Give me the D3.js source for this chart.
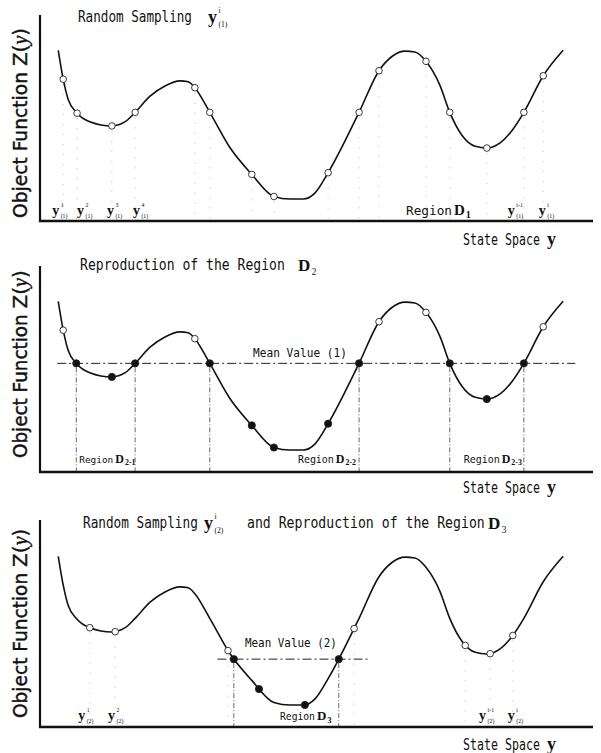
<!DOCTYPE html>
<html><head><meta charset="utf-8">
<script src="https://cdn.jsdelivr.net/npm/d3@7"></script>
<style>
body{margin:0;background:#fff}
svg{display:block}
.mono{font-family:"DejaVu Sans Mono","Liberation Mono",monospace;fill:#111}
.sans{font-family:"DejaVu Sans","Liberation Sans",sans-serif;fill:#111}
.ser{font-family:"Liberation Serif","DejaVu Serif",serif;font-weight:bold;fill:#111}
</style></head><body>
<svg id="c" width="601" height="753"></svg>
<script>
// ---------------- data (state space u: 0..100, object function z: 0..10) ----------------
const curveU = [3.3, 4.2, 5.1, 6.7, 9.0, 13.0, 15.4, 17.2, 19.9, 22.6, 25.3, 26.8, 28.0, 30.7, 34.4, 38.3, 42.3, 45.2, 47.6, 49.7, 52.1, 55.2, 57.7, 61.3, 63.7, 66.0, 67.8, 69.8, 72.3, 74.1, 76.3, 78.7, 80.8, 83.2, 85.4, 87.5, 91.0, 94.6];
const curveZ = [10.1, 8.4, 7.2, 6.4, 5.9, 5.65, 5.9, 6.45, 7.4, 8.0, 8.3, 8.25, 7.9, 6.45, 4.35, 2.8, 1.5, 1.35, 1.35, 1.7, 2.9, 4.8, 6.45, 8.9, 9.75, 10.05, 10.0, 9.45, 8.05, 6.45, 5.1, 4.45, 4.35, 4.65, 5.4, 6.45, 8.6, 10.1];

// panel 1: random sampling y(1)
const samples1 = [4.2, 6.7, 13.0, 17.2, 28.0, 30.7, 38.3, 42.3, 52.1, 57.7, 61.3, 69.8, 74.1, 80.8, 87.5, 91.0];
const ticks1U = [2.2, 6.7, 12.1, 16.8, 84.6, 90.2];
const ticks1Sup = ["1", "2", "3", "4", "i-1", "i"];
const ticks1Sub = "(1)";

// panel 2: reproduction of region D2
const open2 = [4.2, 28.0, 61.3, 69.8, 91.0];
const filled2 = [13.0, 38.3, 42.3, 52.1, 80.8];
const mean1 = 6.45;
const mean1Span = [3.1, 96.8];
const regions2 = ["2-1", "2-2", "2-3"];

// panel 3: random sampling y(2), region D3
const open3 = [9.0, 13.6, 34.0, 56.8, 76.9, 81.4, 85.5];
const filled3 = [39.6, 47.9];
const mean2 = 4.05;
const mean2Span = [32.1, 59.7];
const ticks3U = [6.9, 12.3, 79.4, 84.6];
const ticks3Sup = ["1", "2", "i-1", "i"];
const ticks3Sub = "(2)";

// ---------------- layout ----------------
const svg = d3.select("#c");
const x = d3.scaleLinear().domain([0, 100]).range([40, 593]);
const panels = [{axisY: 221, topY: 15}, {axisY: 472, topY: 266}, {axisY: 727, topY: 520}];
panels.forEach(p => p.z = d3.scaleLinear().domain([0, 10]).range([p.axisY + 1, p.axisY - 169]));
const curve = curveU.map((u, i) => ({u, z: curveZ[i]}));
const lineGen = zs => d3.line().x(d => x(d.u)).y(d => zs(d.z)).curve(d3.curveMonotoneX);

// sample the curve for lookups
const tmp = svg.append("path").datum(curve).attr("d", lineGen(panels[0].z)).attr("fill", "none");
const tn = tmp.node(), TL = tn.getTotalLength();
const pts = [];
for (let l = 0; l <= TL; l += 0.4) { const q = tn.getPointAtLength(l); pts.push([x.invert(q.x), panels[0].z.invert(q.y)]); }
tmp.remove();
pts.sort((a, b) => a[0] - b[0]);
function zAt(u) {
  const i = d3.bisector(d => d[0]).left(pts, u);
  if (i <= 0) return pts[0][1];
  if (i >= pts.length) return pts[pts.length - 1][1];
  const a = pts[i - 1], b = pts[i], t = (u - a[0]) / ((b[0] - a[0]) || 1);
  return a[1] + t * (b[1] - a[1]);
}
function crossings(m, span) {
  const out = [];
  for (let i = 1; i < pts.length; i++) {
    const a = pts[i - 1], b = pts[i];
    if (a[0] < span[0] || b[0] > span[1]) continue;
    if ((a[1] - m) * (b[1] - m) <= 0 && a[1] !== b[1]) {
      const u = a[0] + (m - a[1]) / (b[1] - a[1]) * (b[0] - a[0]);
      if (!out.length || u - out[out.length - 1] > 1) out.push(u);
    }
  }
  return out;
}

// ---------------- helpers ----------------
// condensed text: font size chosen so the natural width is w, glyphs stretched vertically to look like `size`
function condText(g, str, x0, y0, w, size, cls) {
  const t = g.append("text").attr("class", cls || "mono").style("font-size", size + "px").text(str);
  const L = t.node().getComputedTextLength();
  const f = Math.min(size, size * w / L);
  t.style("font-size", f + "px").attr("transform", `translate(${x0},${y0}) scale(1,${size / f})`);
  return t;
}
// bold letter with stacked superscript / subscript, all in one text element
function boldY(g, x0, y0, size, sup, sub, letter, ratio) {
  const t = g.append("text").attr("class", "ser").attr("x", x0).attr("y", y0).style("font-size", size + "px");
  t.append("tspan").text(letter || "y");
  const w = t.node().getComputedTextLength();
  const s = size * (ratio || 0.42);
  if (sup) t.append("tspan").attr("x", x0 + w + 1.5).attr("y", y0 - size * 0.55).style("font-size", s + "px").style("font-weight", "normal").text(sup);
  if (sub) t.append("tspan").attr("x", x0 + w + 1.5).attr("y", y0 + size * 0.22).style("font-size", s + "px").style("font-weight", "normal").text(sub);
  return t;
}
// "Region D_sub" as one text element
function regionLabel(g, x0, y0, rw, size, sub, anchorEnd) {
  const f = rw / (6 * 0.602);
  const t = g.append("text").attr("x", x0).attr("y", y0).attr("text-anchor", anchorEnd ? "end" : "start");
  t.append("tspan").attr("class", "mono").style("font-size", f + "px").text("Region");
  t.append("tspan").attr("class", "ser").attr("dx", 2).style("font-size", (size + 1) + "px").text("D");
  t.append("tspan").attr("class", "ser").attr("dx", 1).attr("dy", size * 0.22).style("font-size", (size * 0.72) + "px").text(sub);
  return t;
}
function yTitle(bottom, top) {
  const len = bottom - top;
  const g = svg.append("g").attr("transform", `translate(27,${bottom}) rotate(-90)`);
  condText(g, "Object Function", 0, 0, len * 0.745, 20, "sans").attr("stroke", "#111").attr("stroke-width", 0.4);
  const t2 = g.append("text").attr("class", "sans").attr("x", len * 0.775).style("font-size", "20px")
    .attr("stroke", "#111").attr("stroke-width", 0.4);
  t2.append("tspan").text("Z(");
  t2.append("tspan").style("font-family", "Liberation Serif, serif").style("font-style", "italic").text("y");
  t2.append("tspan").text(")");
}
function guide(g, p, u) {
  g.append("line").attr("x1", x(u)).attr("x2", x(u)).attr("y1", p.z(zAt(u)) + 5).attr("y2", p.axisY - 2)
    .attr("stroke", "#bbb").attr("stroke-width", 1).attr("stroke-dasharray", "1,9");
}
function dots(g, p, us, filled) {
  g.selectAll(null).data(us).enter().append("circle")
    .attr("cx", u => x(u)).attr("cy", u => p.z(zAt(u)))
    .attr("r", filled ? 3.6 : 3.3)
    .attr("fill", filled ? "#111" : "#fff").attr("stroke", "#222").attr("stroke-width", 0.9);
}
function meanLine(g, p, m, span) {
  g.append("line").attr("x1", x(span[0])).attr("x2", x(span[1])).attr("y1", p.z(m)).attr("y2", p.z(m))
    .attr("stroke", "#222").attr("stroke-width", 1).attr("stroke-dasharray", "9,3,2,3");
}
function vLines(g, p, m, us) {
  g.selectAll(null).data(us).enter().append("line")
    .attr("x1", u => x(u)).attr("x2", u => x(u)).attr("y1", p.z(m) + 4).attr("y2", p.axisY - 1)
    .attr("stroke", "#444").attr("stroke-width", 0.8).attr("stroke-dasharray", "5,2,1,2");
}
function axes(g, p) {
  g.append("line").attr("x1", 40).attr("x2", 40).attr("y1", p.topY).attr("y2", p.axisY + 1)
    .attr("stroke", "#111").attr("stroke-width", 2.2);
  g.append("line").attr("x1", 39).attr("x2", 593).attr("y1", p.axisY).attr("y2", p.axisY)
    .attr("stroke", "#111").attr("stroke-width", 2.4);
}
function drawCurve(g, p) {
  g.append("path").datum(curve).attr("d", lineGen(p.z)).attr("fill", "none")
    .attr("stroke", "#111").attr("stroke-width", 1.6);
}
function stateSpace(g, base) {
  condText(g, "State Space", 463, base, 77, 15);
  boldY(g, 547, base, 18, null, null);
}

// ---------------- panel 1 ----------------
{
  const p = panels[0], g = svg.append("g");
  samples1.forEach(u => guide(g, p, u));
  axes(g, p);
  drawCurve(g, p);
  dots(g, p, samples1, false);
  condText(g, "Random Sampling", 78, 22, 114, 16);
  boldY(g, 208, 23, 18, "i", "(1)");
  ticks1U.forEach((u, i) => boldY(g, x(u), 215, 14, ticks1Sup[i], ticks1Sub));
  regionLabel(g, 406, 215, 46, 14, "1", false);
  stateSpace(g, 245);
  yTitle(218, 22);
}

// ---------------- panel 2 ----------------
{
  const p = panels[1], g = svg.append("g");
  const c = crossings(mean1, mean1Span);
  vLines(g, p, mean1, c);
  axes(g, p);
  drawCurve(g, p);
  meanLine(g, p, mean1, mean1Span);
  dots(g, p, open2, false);
  dots(g, p, filled2.concat(c), true);
  condText(g, "Reproduction of the Region", 80, 270, 205, 16);
  boldY(g, 298, 271, 17, null, "2", "D", 0.55);
  condText(g, "Mean Value (1)", 253, 357, 94, 12);
  if (c.length >= 6) {
    regionLabel(g, x(c[0]) + 3, 463, 34, 11, regions2[0], false);
    regionLabel(g, x(c[3]) - 3, 463, 36, 11, regions2[1], true);
    regionLabel(g, x(c[5]) - 2, 463, 36, 11, regions2[2], true);
  }
  stateSpace(g, 493);
  yTitle(458, 265);
}

// ---------------- panel 3 ----------------
{
  const p = panels[2], g = svg.append("g");
  const c = crossings(mean2, mean2Span);
  open3.forEach(u => guide(g, p, u));
  vLines(g, p, mean2, c);
  axes(g, p);
  drawCurve(g, p);
  meanLine(g, p, mean2, mean2Span);
  dots(g, p, open3, false);
  dots(g, p, filled3.concat(c), true);
  condText(g, "Random Sampling", 83, 528, 115, 16);
  boldY(g, 204, 529, 18, "i", "(2)");
  condText(g, "and Reproduction of the Region", 247, 528, 238, 16);
  boldY(g, 488, 529, 17, null, "3", "D", 0.55);
  condText(g, "Mean Value (2)", 245, 647, 92, 12);
  regionLabel(g, 280, 720, 35, 12, "3", false);
  ticks3U.forEach((u, i) => boldY(g, x(u), 720, 14, ticks3Sup[i], ticks3Sub));
  stateSpace(g, 750);
  yTitle(718, 523);
}
</script>
</body></html>
